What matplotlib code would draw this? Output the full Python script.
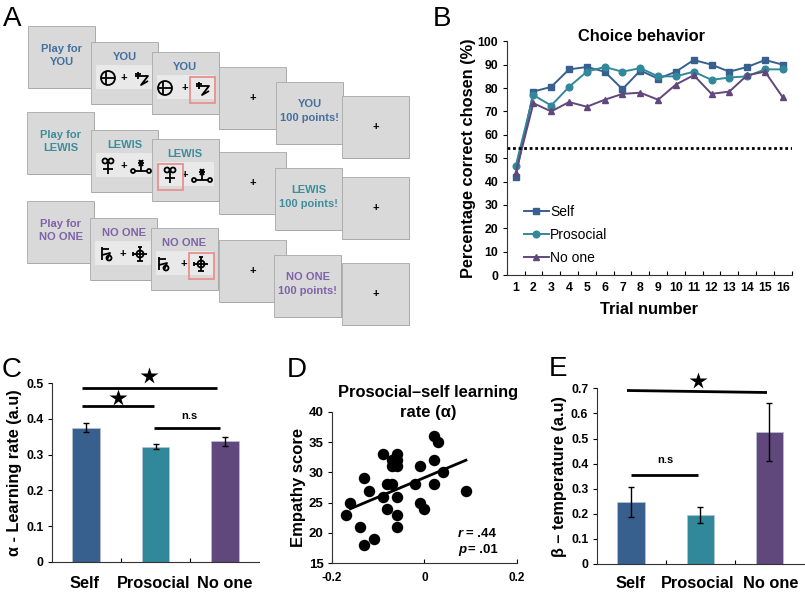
#!/usr/bin/env python3

import matplotlib
matplotlib.use("Agg")
import matplotlib.pyplot as plt
from matplotlib.lines import Line2D
from matplotlib.patches import Circle, Rectangle

W, H = 805, 595
FONT = "Liberation Sans"
BLUE = "#38608f"
TEAL = "#32889b"
PURPLE = "#60477c"
TXT_BLUE = "#44709f"
TXT_TEAL = "#3d8e9c"
TXT_PURPLE = "#7f62a8"

# panel B
trials = list(range(1, 17))
self_curve = [42, 78.5, 80.5, 88, 89, 87, 79.5, 87.5, 84, 87, 92, 90, 87, 89, 92, 90]
prosocial_curve = [46.5, 77, 72.5, 80.5, 87, 89, 87, 88.5, 85, 85, 87, 83.5, 84.5, 85, 88, 88]
noone_curve = [43.5, 73.5, 70, 74, 72, 75, 77.5, 78, 75, 81.5, 85.5, 77.5, 78.5, 85.5, 87, 76]
chance_level = 54.5

# panels C and E
groups = ["Self", "Prosocial", "No one"]
alpha_vals = [0.376, 0.322, 0.337]
alpha_err = [0.012, 0.007, 0.013]
beta_vals = [0.247, 0.197, 0.527]
beta_err = [0.06, 0.032, 0.115]

# panel D
diff_x = [-0.17, -0.16, -0.14, -0.13, -0.13, -0.12, -0.11, -0.09, -0.09, -0.08,
          -0.08, -0.07, -0.07, -0.07, -0.06, -0.06, -0.06, -0.06, -0.06, -0.06,
          -0.02, -0.01, -0.01, 0.0, 0.02, 0.03, 0.02, 0.02, 0.04, 0.09]
empathy_y = [23, 25, 21, 18, 29, 27, 19, 33, 26, 28,
             24, 28, 32, 31, 33, 32, 31, 26, 23, 21,
             28, 31, 25, 24, 36, 35, 32, 28, 30, 27]
fit_x = [-0.16, 0.09]
fit_y = [24, 32]

# panel A: card corners (left, top) per row, all about 67x62 px
card_rows = [
    [(28, 26), (91, 42), (152, 52), (219, 67), (276, 82), (342, 96)],
    [(27, 112), (91, 130), (152, 139), (219, 152), (275, 168), (342, 177)],
    [(27, 201), (90, 218), (151, 228), (219, 240), (274, 255), (342, 263)],
]
row_names = ["YOU", "LEWIS", "NO ONE"]
row_colors = [TXT_BLUE, TXT_TEAL, TXT_PURPLE]
highlight_side = ["right", "left", "right"]


def px_axes(fig, left, top, right, bottom):
    return fig.add_axes([left / W, 1 - bottom / H, (right - left) / W, (bottom - top) / H])


def style_axis(ax, size=8.8):
    ax.spines["top"].set_visible(False)
    ax.spines["right"].set_visible(False)
    for side in ("left", "bottom"):
        ax.spines[side].set_linewidth(0.8)
        ax.spines[side].set_color("#333333")
    ax.tick_params(axis="y", direction="out", length=3, width=0.8, labelsize=size, pad=3)
    ax.tick_params(axis="x", direction="in", length=3, width=0.8, labelsize=size)
    for label in ax.get_xticklabels() + ax.get_yticklabels():
        label.set_fontweight("bold")


def bar_panel(ax, values, errors, ymax, step, ylabel):
    x = list(range(len(groups)))
    ax.bar(x, values, width=0.4, color=[BLUE, TEAL, PURPLE],
           edgecolor="#b8c4d4", linewidth=0.5)
    ax.errorbar(x, values, yerr=errors, fmt="none", ecolor="black",
                elinewidth=1.0, capsize=2.2, capthick=1.0)
    ax.set_xlim(-0.5, 2.5)
    ax.set_ylim(0, ymax)
    ticks = [round(i * step, 1) for i in range(int(round(ymax / step)) + 1)]
    ax.set_yticks(ticks)
    ax.set_yticklabels(["0" if t == 0 else f"{t:.1f}" for t in ticks])
    ax.set_xticks([0.5, 1.5])
    ax.set_xticklabels([])
    style_axis(ax)
    ax.set_ylabel(ylabel, fontsize=11.7, fontweight="bold", labelpad=3)


def draw_symbol(ax, kind, cx, cy, s=1.0):
    kw = dict(color="black", lw=1.3 * s, solid_capstyle="butt")

    def seg(xs, ys):
        ax.plot([cx + v * s for v in xs], [cy + v * s for v in ys], **kw)

    def ring(dx, dy, r):
        ax.add_patch(Circle((cx + dx * s, cy + dy * s), r * s, fill=False,
                            edgecolor="black", lw=1.3 * s))

    if kind == 0:
        ring(0, 0, 7)
        seg([-7, 7], [0, 0])
        seg([-2, -2], [-7, 7])
    elif kind == 1:
        seg([-6, 7, 0, 7], [-2, -2, 7, 3])
        seg([-3, -3], [-6, 1])
        seg([-6, 0], [-4, -4])
    elif kind == 2:
        ring(-3, -5, 2.5)
        ring(3, -5, 2.5)
        seg([0, 0], [-4, 8])
        seg([-5, 5], [3, 3])
    elif kind == 3:
        ring(-8, 5, 2)
        ring(8, 5, 2)
        seg([-6, 6], [5, 5])
        seg([0, 0], [-6, 5])
        seg([-3, 3], [-3, -3])
        seg([-2, 2], [-6, 0])
        seg([2, -2], [-6, 0])
    elif kind == 4:
        seg([-5, -5], [-7, 6])
        seg([-5, 2], [-5, -5])
        seg([-5, 3, 0], [1, -1, 6])
        ring(2, 4, 2.5)
    else:
        ring(0, 0, 3.5)
        seg([-7, 7], [0, 0])
        seg([0, 0], [-7, 7])
        seg([-7, -7], [-2, 2])
        seg([-3, 3], [7, 7])
        seg([-2, 2], [-7, -7])


def draw_card(ax, left, top, w=67, h=62):
    ax.add_patch(Rectangle((left + 0.6, top + 1), w, h, facecolor="#9a9a9a", edgecolor="none"))
    ax.add_patch(Rectangle((left, top), w, h, facecolor="#d9d9d9", edgecolor="#a8a8a8", lw=0.6))


def panel_a(ax):
    for r, cards in enumerate(card_rows):
        name, color = row_names[r], row_colors[r]
        kinds = (r * 2, r * 2 + 1)
        bold = dict(color=color, fontsize=8.0, fontweight="bold", ha="center", va="center")
        for c, (left, top) in enumerate(cards):
            draw_card(ax, left, top)
            cx = left + 33.5
            if c == 0:
                ax.text(cx, top + 23, "Play for", **bold)
                ax.text(cx, top + 36, name, **bold)
            elif c in (1, 2):
                ax.text(cx - (1 if c == 2 else 0), top + 15, name, **bold)
                ax.add_patch(Rectangle((left + 5, top + 23), 57, 24,
                                       facecolor="#e9e9e9", edgecolor="none"))
                ymid = top + 36
                dl, dr = 17, 50
                if c == 2:
                    side = highlight_side[r]
                    box_x = left + 38 if side == "right" else left + 6
                    ax.add_patch(Rectangle((box_x, top + 25), 25, 26, facecolor="none",
                                           edgecolor="#e8918f", lw=1.3, zorder=4))
                    if side == "right":
                        dl, dr = 13, 50
                    else:
                        dl, dr = 18, 50
                ax.text(left + 33, ymid, "+", fontsize=8, ha="center", va="center",
                        fontweight="bold", color="black")
                draw_symbol(ax, kinds[0], left + dl, ymid, 1.0)
                draw_symbol(ax, kinds[1], left + dr, ymid, 1.0)
            elif c == 3 or c == 5:
                ax.text(cx, top + 31, "+", fontsize=8, ha="center", va="center",
                        fontweight="bold", color="black")
            else:
                ax.text(cx, top + 22, name, **bold)
                ax.text(cx, top + 36, "100 points!", **bold)


plt.rcParams["font.family"] = [FONT, "DejaVu Sans"]
fig = plt.figure(figsize=(W / 100, H / 100), dpi=100)

# overlay in pixel coordinates for panel A, letters and bracket annotations
over = fig.add_axes([0, 0, 1, 1], zorder=5)
over.set_xlim(0, W)
over.set_ylim(H, 0)
over.axis("off")
panel_a(over)

for letter, lx, ly in [("A", 3, 19), ("B", 433, 19), ("C", 2, 370), ("D", 287, 370), ("E", 549, 369)]:
    over.text(lx, ly, letter, fontsize=20, ha="left", va="center", color="black")

# panel B
ax_b = px_axes(fig, 506.7, 41.3, 791.7, 275)
ax_b.plot(trials, self_curve, color=BLUE, marker="s", ms=4.5, lw=1.4, label="Self")
ax_b.plot(trials, prosocial_curve, color=TEAL, marker="o", ms=4.8, lw=1.4, label="Prosocial")
ax_b.plot(trials, noone_curve, color=PURPLE, marker="^", ms=3.8, lw=1.4, label="No one")
ax_b.plot([0.5, 16.5], [chance_level, chance_level], color="black", lw=2.0, ls=(0, (1, 1)))
ax_b.set_xlim(0.5, 16.5)
ax_b.set_ylim(0, 100)
ax_b.set_yticks(range(0, 101, 10))
ax_b.set_xticks([t + 0.5 for t in range(0, 17)])
ax_b.set_xticklabels([])
style_axis(ax_b)
for t in trials:
    ax_b.text(t, -5.5, str(t), fontsize=8.8, fontweight="bold", ha="center", va="center")
ax_b.set_xlabel("Trial number", fontsize=11.8, fontweight="bold", labelpad=16)
ax_b.set_ylabel("Percentage correct chosen (%)", fontsize=11.8, fontweight="bold", labelpad=1)
ax_b.text(8.05, 102, "Choice behavior", fontsize=11.8, fontweight="bold", ha="center", va="center")
handles = [Line2D([], [], color=BLUE, marker="s", ms=4.5, lw=1.4),
           Line2D([], [], color=TEAL, marker="o", ms=4.8, lw=1.4),
           Line2D([], [], color=PURPLE, marker="^", ms=3.8, lw=1.4)]
ax_b.legend(handles, groups, loc="lower left", bbox_to_anchor=(0.035, 0.012), frameon=False,
            fontsize=10, handlelength=1.8, handletextpad=0.1, labelspacing=0.66, borderpad=0)

# panel C
ax_c = px_axes(fig, 51.7, 383.3, 259.3, 561.7)
bar_panel(ax_c, alpha_vals, alpha_err, 0.5, 0.1, "α - Learning rate (a.u)")
for label, x in zip(groups, (84.5, 154, 224.5)):
    over.text(x, 583, label, fontsize=11.8, fontweight="bold", ha="center", va="center")
for x0, x1, y in [(82, 217, 388), (82, 154, 406), (154, 220, 427.5)]:
    over.plot([x0, x1], [y, y], color="black", lw=2.0, solid_capstyle="butt")
over.plot([148.5], [376], marker="*", ms=13, color="black", mec="none")
over.plot([118], [397.5], marker="*", ms=13, color="black", mec="none")
over.text(189, 416, "n.s", fontsize=8, fontweight="bold", ha="center", va="center")

# panel D
ax_d = px_axes(fig, 332, 411.7, 516.7, 563.3)
ax_d.scatter(diff_x, empathy_y, s=68, color="black", linewidths=0, zorder=3)
ax_d.plot(fit_x, fit_y, color="black", lw=2.0, zorder=3)
ax_d.set_xlim(-0.2, 0.2)
ax_d.set_ylim(15, 40)
ax_d.set_xticks([-0.2, 0, 0.2])
ax_d.set_xticklabels(["-0.2", "0", "0.2"])
ax_d.set_yticks(range(15, 41, 5))
style_axis(ax_d, size=9.5)
ax_d.tick_params(axis="x", pad=6, labelsize=8.5)
ax_d.set_ylabel("Empathy score", fontsize=12, fontweight="bold", labelpad=2)
over.text(428.5, 392.5, "Prosocial–self learning", fontsize=11.9, fontweight="bold", ha="center", va="center", zorder=6)
over.text(428.5, 413, "rate (α)", fontsize=11.9, fontweight="bold", ha="center", va="center", zorder=6)
for y, letter, rest, rest_x in [(534, "r", "= .44", 466), (550, "p", "= .01", 468)]:
    over.text(458, y, letter, fontsize=9.5, fontweight="bold", fontstyle="italic", va="center")
    over.text(rest_x, y, rest, fontsize=9.5, fontweight="bold", va="center")

# panel E
ax_e = px_axes(fig, 596.7, 388.3, 804, 564)
bar_panel(ax_e, beta_vals, beta_err, 0.7, 0.1, "β – temperature (a.u)")
for label, x in zip(groups, (630.7, 697.7, 771)):
    over.text(x, 583, label, fontsize=11.8, fontweight="bold", ha="center", va="center")
over.plot([627, 767], [390.5, 392.5], color="black", lw=2.0, solid_capstyle="butt")
over.plot([631, 698], [474.5, 474.5], color="black", lw=2.0, solid_capstyle="butt")
over.plot([698], [381], marker="*", ms=13, color="black", mec="none")
over.text(665, 460, "n.s", fontsize=8, fontweight="bold", ha="center", va="center")

fig.savefig("out.png", dpi=100)
